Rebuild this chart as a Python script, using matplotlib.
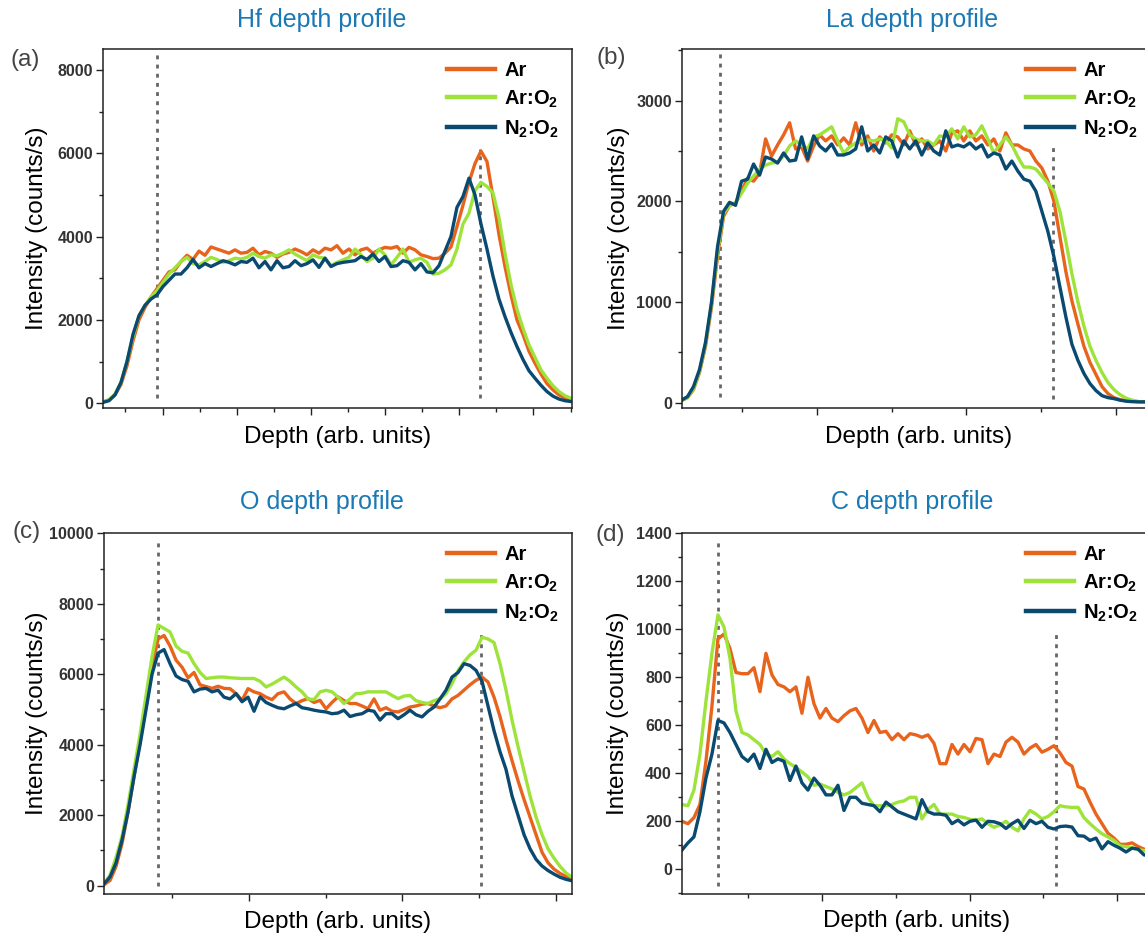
import numpy as np
import matplotlib
matplotlib.use("Agg")
import matplotlib.pyplot as plt
from matplotlib.ticker import MultipleLocator

plt.rcParams['font.family'] = ['Liberation Sans', 'DejaVu Sans']
plt.rcParams['mathtext.fontset'] = 'custom'
plt.rcParams['mathtext.rm'] = 'Liberation Sans'
plt.rcParams['mathtext.bf'] = 'Liberation Sans:bold'
plt.rcParams['mathtext.it'] = 'Liberation Sans:italic'

# ---------------- data ----------------
series_labels = ['Ar', r'Ar:O$_\mathbf{2}$', r'N$_\mathbf{2}$:O$_\mathbf{2}$']
series_colors = ['#E8641C', '#9DE33A', '#0A4A70']
titles = ['Hf depth profile', 'La depth profile', 'O depth profile', 'C depth profile']
panel_tags = ['(a)', '(b)', '(c)', '(d)']

# depth grids (arb. units, one tick interval = 1)
depth_a = np.linspace(-0.802, 5.505, 79)
depth_b = np.linspace(-0.903, 2.227, 79)
depth_c = np.linspace(-0.945, 2.105, 79)
depth_d = np.linspace(-0.949, 2.222, 79)

# Hf
hf_ar = [30, 80, 200, 450, 900, 1500, 2000, 2300, 2550, 2750, 2950, 3150, 3200, 3400, 3550, 3450, 3650, 3550, 3750, 3700,
         3650, 3600, 3680, 3600, 3620, 3720, 3560, 3640, 3600, 3500, 3580, 3620, 3700, 3640, 3560, 3680, 3600, 3720, 3680, 3780,
         3600, 3700, 3560, 3680, 3720, 3600, 3680, 3740, 3720, 3760, 3600, 3740, 3680, 3560, 3520, 3470, 3480, 3600, 3750, 4240,
         4750, 5300, 5750, 6050, 5800, 4950, 4050, 3280, 2600, 2000, 1650, 1250, 960, 700, 470, 320, 200, 130, 90]
hf_aro2 = [30, 80, 220, 500, 1000, 1600, 2100, 2350, 2550, 2700, 2900, 3100, 3250, 3400, 3500, 3350, 3320, 3400, 3500, 3450,
           3380, 3420, 3480, 3460, 3500, 3600, 3520, 3480, 3560, 3540, 3600, 3680, 3580, 3500, 3420, 3560, 3500, 3480, 3300, 3380,
           3440, 3500, 3700, 3560, 3400, 3480, 3700, 3560, 3320, 3500, 3700, 3380, 3440, 3480, 3380, 3100, 3120, 3200, 3320, 3700,
           4300, 4560, 5100, 5300, 5200, 5050, 4450, 3600, 2850, 2250, 1800, 1400, 1100, 800, 600, 420, 280, 180, 120]
hf_n2o2 = [20, 60, 200, 500, 1000, 1650, 2100, 2350, 2500, 2600, 2800, 2950, 3100, 3100, 3250, 3450, 3250, 3350, 3280, 3350,
           3420, 3380, 3320, 3400, 3380, 3480, 3250, 3400, 3200, 3420, 3250, 3280, 3420, 3300, 3350, 3440, 3260, 3480, 3280, 3350,
           3380, 3400, 3420, 3520, 3450, 3580, 3400, 3520, 3280, 3300, 3420, 3380, 3200, 3350, 3150, 3130, 3300, 3650, 4000, 4700,
           4960, 5400, 5000, 4300, 3700, 3050, 2500, 2080, 1700, 1360, 1050, 780, 600, 430, 280, 170, 100, 60, 40]

# La
la_ar = [20, 50, 130, 300, 560, 950, 1450, 1850, 1960, 1980, 2100, 2230, 2200, 2280, 2620, 2450, 2560, 2660, 2780, 2520,
         2540, 2400, 2550, 2660, 2600, 2650, 2560, 2630, 2560, 2780, 2560, 2650, 2500, 2640, 2580, 2660, 2640, 2560, 2700, 2560,
         2620, 2520, 2560, 2600, 2500, 2680, 2700, 2600, 2700, 2600, 2650, 2560, 2620, 2500, 2680, 2560, 2560, 2520, 2500, 2400,
         2330, 2200, 2000, 1650, 1300, 1010, 780, 560, 400, 280, 160, 90, 50, 30, 20, 15, 10, 10, 10]
la_aro2 = [20, 50, 140, 310, 580, 980, 1500, 1880, 1960, 1990, 2080, 2180, 2250, 2320, 2360, 2380, 2390, 2450, 2550, 2600,
           2560, 2520, 2640, 2660, 2700, 2740, 2600, 2480, 2540, 2580, 2600, 2610, 2600, 2620, 2600, 2530, 2820, 2790, 2660, 2620,
           2600, 2600, 2560, 2650, 2640, 2720, 2620, 2740, 2640, 2660, 2750, 2620, 2480, 2560, 2640, 2560, 2440, 2340, 2340, 2320,
           2250, 2180, 2100, 1900, 1600, 1280, 1000, 760, 560, 420, 300, 200, 130, 80, 45, 25, 12, 6, 5]
la_n2o2 = [25, 60, 160, 330, 600, 1000, 1550, 1900, 1990, 1960, 2200, 2220, 2370, 2260, 2440, 2420, 2380, 2480, 2400, 2410,
           2640, 2420, 2650, 2550, 2500, 2570, 2460, 2460, 2480, 2520, 2740, 2500, 2560, 2480, 2640, 2600, 2440, 2600, 2520, 2600,
           2460, 2580, 2500, 2460, 2700, 2540, 2560, 2540, 2580, 2520, 2560, 2440, 2480, 2460, 2320, 2400, 2300, 2220, 2200, 2100,
           1900, 1700, 1450, 1150, 850, 580, 420, 290, 190, 120, 70, 50, 40, 25, 15, 10, 8, 8, 8]

# O
o_ar = [30, 150, 550, 1200, 2100, 3100, 4100, 5100, 6200, 7000, 7100, 6800, 6400, 6200, 5900, 6050, 5700, 5650, 5600, 5660,
        5600, 5590, 5450, 5260, 5590, 5500, 5450, 5350, 5280, 5450, 5500, 5300, 5170, 5250, 5310, 5200, 5260, 5020, 5200, 5360,
        5250, 5170, 5170, 5100, 5020, 5300, 4980, 5050, 4950, 4930, 5000, 5070, 5100, 5150, 5170, 5100, 5050, 5100, 5300, 5400,
        5550, 5700, 5830, 5920, 5780, 5350, 4800, 4150, 3550, 2980, 2450, 1950, 1450, 950, 650, 470, 350, 260, 190]
o_aro2 = [50, 300, 800, 1400, 2300, 3300, 4300, 5400, 6500, 7400, 7300, 7200, 6800, 6650, 6600, 6300, 6050, 5880, 5900, 5920,
          5920, 5900, 5890, 5880, 5880, 5880, 5800, 5640, 5720, 5820, 5920, 5800, 5640, 5500, 5300, 5280, 5500, 5545, 5500, 5350,
          5170, 5300, 5450, 5460, 5500, 5500, 5500, 5500, 5400, 5310, 5380, 5400, 5250, 5200, 5170, 5250, 5310, 5450, 5735, 6100,
          6350, 6550, 6680, 7050, 7000, 6900, 6300, 5550, 4700, 3950, 3250, 2550, 1950, 1450, 1050, 780, 550, 360, 240]
o_n2o2 = [50, 250, 650, 1300, 2100, 3100, 4000, 5000, 6000, 6600, 6700, 6300, 5950, 5850, 5800, 5500, 5580, 5600, 5500, 5550,
          5350, 5300, 5450, 5220, 5350, 4950, 5360, 5200, 5120, 5050, 5020, 5100, 5170, 5050, 5020, 4980, 4950, 4930, 4880, 4900,
          4980, 4800, 4850, 4880, 4980, 4950, 4700, 4880, 4880, 4740, 4850, 4980, 4850, 4790, 4950, 5070, 5300, 5550, 5920, 6050,
          6300, 6250, 6110, 5800, 5100, 4400, 3800, 3300, 2550, 2000, 1450, 1050, 750, 560, 430, 330, 240, 180, 140]

# C
c_ar = [200, 190, 215, 270, 450, 680, 960, 980, 920, 820, 815, 815, 840, 740, 900, 810, 770, 760, 740, 760,
        650, 800, 690, 630, 670, 630, 615, 640, 660, 670, 630, 570, 620, 570, 575, 540, 565, 540, 565, 560,
        550, 560, 525, 440, 440, 520, 480, 520, 490, 545, 540, 440, 480, 470, 530, 550, 530, 480, 505, 520,
        488, 500, 515, 485, 445, 430, 345, 334, 280, 230, 190, 150, 130, 104, 104, 110, 95, 84, 80]
c_aro2 = [270, 265, 330, 480, 700, 900, 1060, 1010, 880, 660, 570, 560, 540, 520, 480, 470, 490, 460, 440, 425,
          405, 385, 350, 355, 345, 335, 320, 310, 320, 340, 360, 300, 265, 265, 265, 270, 280, 285, 300, 300,
          210, 250, 270, 230, 230, 230, 220, 216, 208, 205, 210, 190, 175, 185, 200, 175, 160, 210, 245, 230,
          210, 220, 240, 265, 260, 258, 258, 215, 190, 168, 148, 135, 120, 98, 94, 90, 82, 78, 75]
c_n2o2 = [80, 110, 135, 240, 380, 480, 620, 610, 570, 520, 470, 450, 480, 420, 500, 445, 460, 450, 370, 430,
          360, 330, 380, 350, 310, 310, 350, 245, 300, 300, 275, 270, 265, 240, 280, 260, 240, 230, 220, 210,
          290, 240, 230, 230, 225, 190, 205, 185, 200, 205, 175, 200, 198, 190, 170, 190, 205, 170, 205, 190,
          200, 175, 168, 178, 180, 176, 140, 138, 120, 130, 85, 115, 100, 88, 72, 88, 84, 60, 55]

# interface markers (depth position, y-start, y-end)
marks_a = [(-0.074, 120, 8400), (4.279, 120, 6100)]
marks_b = [(-0.649, 60, 3490), (1.576, 40, 2580)]
marks_c = [(-0.596, 0, 9850), (1.509, 0, 7250)]
marks_d = [(-0.705, -70, 1380), (1.582, -70, 995)]

panels = [
    dict(x=depth_a, ys=[hf_ar, hf_aro2, hf_n2o2], xlim=(-0.802, 5.519), ylim=(-115, 8500), ymin=1000,
         yt=[0, 2000, 4000, 6000, 8000], marks=marks_a, rect=(103, 49, 572, 408)),
    dict(x=depth_b, ys=[la_ar, la_aro2, la_n2o2], xlim=(-0.903, 2.227), ylim=(-55, 3510), ymin=500,
         yt=[0, 1000, 2000, 3000], marks=marks_b, rect=(681.5, 49.3, 1150, 408.2)),
    dict(x=depth_c, ys=[o_ar, o_aro2, o_n2o2], xlim=(-0.948, 2.105), ylim=(-236, 10000), ymin=1000,
         yt=[0, 2000, 4000, 6000, 8000, 10000], marks=marks_c, rect=(103.6, 533.3, 572, 894)),
    dict(x=depth_d, ys=[c_ar, c_aro2, c_n2o2], xlim=(-0.952, 2.222), ylim=(-103, 1400), ymin=100,
         yt=[0, 200, 400, 600, 800, 1000, 1200, 1400], marks=marks_d, rect=(681.5, 533.3, 1150, 894)),
]

W, H = 1145, 936
fig = plt.figure(figsize=(W / 100, H / 100), dpi=100)

title_pos = [(322, 20), (912, 20), (322, 502), (912, 502)]
tag_pos = [(25, 60), (611, 58), (27, 532), (610, 535)]
ylab_pos = [(37, 228), (619, 228), (37, 713), (618, 713)]
xlab_pos = [(338, 437), (919, 437), (338, 922), (917, 921)]
legend_left = [437, 1016, 437, 1016]
legend_top = [51, 51, 535, 535]

spine_col = '#222222'
tick_col = '#333333'

for k, p in enumerate(panels):
    l, t, r, b = p['rect']
    ax = fig.add_axes([l / W, 1 - b / H, (r - l) / W, (b - t) / H])
    for y, c, lab in zip(p['ys'], series_colors, series_labels):
        ax.plot(p['x'], y, color=c, lw=2.4, label=lab, solid_joinstyle='round')
    for (xm, y0, y1) in p['marks']:
        ax.plot([xm, xm], [y0, y1], color='#666666', lw=2.0, linestyle=(0, (1.4, 1.9)), zorder=1)
    ax.set_xlim(*p['xlim'])
    ax.set_ylim(*p['ylim'])
    ax.xaxis.set_major_locator(MultipleLocator(1))
    ax.xaxis.set_minor_locator(MultipleLocator(0.5))
    ax.set_yticks(p['yt'])
    ax.yaxis.set_minor_locator(MultipleLocator(p['ymin']))
    ax.tick_params(axis='x', which='both', labelbottom=False, direction='out')
    ax.tick_params(axis='both', which='major', length=5, width=1.0, color=spine_col)
    ax.tick_params(axis='both', which='minor', length=3, width=1.0, color=spine_col)
    ax.tick_params(axis='y', which='major', labelsize=11.5, labelcolor=tick_col, pad=2)
    for lbl in ax.get_yticklabels():
        lbl.set_fontweight('bold')
    for s in ax.spines.values():
        s.set_color(spine_col)
        s.set_linewidth(1.1)
    leg = ax.legend(loc='upper left',
                    bbox_to_anchor=((legend_left[k] - l) / (r - l), 1.0 - (legend_top[k] - t) / (b - t)),
                    frameon=False, handlelength=2.4, handletextpad=0.45,
                    labelspacing=0.42, borderaxespad=0.3, borderpad=0.2,
                    prop={'weight': 'bold', 'size': 14.5})
    for h in leg.get_lines():
        h.set_linewidth(3.2)

    tx, ty = title_pos[k]
    fig.text(tx / W, 1 - ty / H, titles[k], color='#1A78B4', fontsize=18, ha='center', va='center')
    gx, gy = tag_pos[k]
    fig.text(gx / W, 1 - gy / H, panel_tags[k], color='#444444', fontsize=17.5, ha='center', va='center')
    yx, yy = ylab_pos[k]
    fig.text(yx / W, 1 - yy / H, 'Intensity (counts/s)', fontsize=17.5, rotation=90, ha='center', va='center')
    xx, xy = xlab_pos[k]
    fig.text(xx / W, 1 - xy / H, 'Depth (arb. units)', fontsize=17.5, ha='center', va='center')

fig.savefig('out.png', dpi=100)
